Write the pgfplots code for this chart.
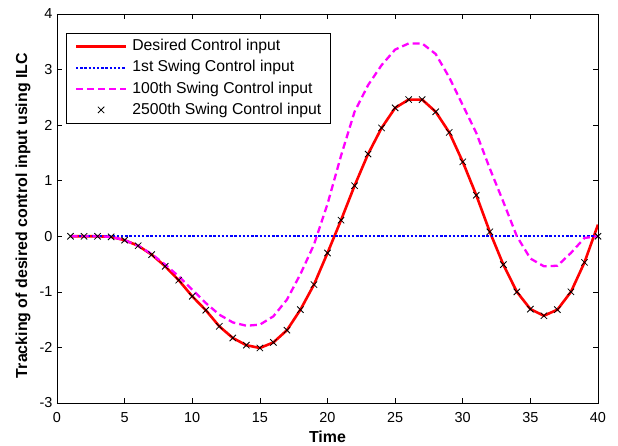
\documentclass[border=0pt]{standalone}
\usepackage{fontspec}
\setmainfont{Liberation Sans}
\usepackage{pgfplots}
\pgfplotsset{compat=1.18}
\definecolor{mred}{rgb}{1,0,0}
\definecolor{mblue}{rgb}{0,0,1}
\definecolor{mmag}{rgb}{1,0,1}
\pgfplotsset{
  linelegend/.style={legend image code/.code={\draw[##1] plot coordinates {(0bp,0bp) (50bp,0bp)};}},
  marklegend/.style={legend image code/.code={\draw[##1] plot coordinates {(25bp,0bp)};}},
}
\begin{document}
\begin{tikzpicture}
\path[use as bounding box] (-57bp,-43bp) rectangle (561bp,403bp);
\begin{axis}[
  scale only axis, width=541bp, height=389bp,
  xmin=0, xmax=40, ymin=-3, ymax=4,
  xtick={0,5,...,40}, ytick={-3,-2,...,4},
  tick align=inside, major tick length=5bp,
  axis line style={line width=0.9bp}, every tick/.style={black, line width=0.6bp},
  /pgf/number format/assume math mode=true,
  tick label style={font=\fontsize{14.5}{16}\selectfont},
  xticklabel style={anchor=center, yshift=-14.7bp},
  yticklabel style={xshift=-1bp},
  xlabel={Time}, ylabel={Tracking of desired control input using ILC},
  every axis x label/.style={at={(rel axis cs:0.5,0)}, anchor=center, yshift=-33.7bp, font=\fontsize{16}{18}\selectfont\bfseries},
  every axis y label/.style={at={(rel axis cs:0,0.5)}, xshift=-34bp, yshift=-7bp, rotate=90, anchor=center, font=\fontsize{16}{18}\selectfont\bfseries},
  legend cell align=left,
  legend style={at={(rel axis cs:0.0166,0.951)}, anchor=north west, draw=black, line width=0.6bp,
    font=\fontsize{15.8}{18}\selectfont, row sep=6.6bp, column sep=5bp,
    inner xsep=8.5bp, inner ysep=6bp,
    nodes={inner sep=0pt, text height=11.5bp, text depth=3bp}},
  linelegend,
]
\addplot[mred, line width=2.6bp] coordinates {
(1,0)(2,0)(3,0)(4,-0.01)(5,-0.07)(6,-0.17)(7,-0.33)(8,-0.54)(9,-0.79)(10,-1.08)
(11,-1.33)(12,-1.62)(13,-1.83)(14,-1.96)(15,-2.01)(16,-1.91)(17,-1.69)(18,-1.32)(19,-0.87)(20,-0.30)
(21,0.29)(22,0.91)(23,1.48)(24,1.95)(25,2.31)(26,2.46)(27,2.46)(28,2.24)(29,1.87)(30,1.34)
(31,0.74)(32,0.08)(33,-0.51)(34,-1.00)(35,-1.31)(36,-1.43)(37,-1.32)(38,-1.00)(39,-0.47)(40,0.21)};
\addlegendentry{Desired Control input}
\addplot[mblue, line width=2.4bp, dash pattern=on 2.4bp off 1.8bp] coordinates {
(1,0)(40,0)};
\addlegendentry{1st Swing Control input}
\addplot[mmag, line width=2.3bp, dash pattern=on 7bp off 4bp] coordinates {
(1,0)(2,0)(3,0)(4,-0.01)(5,-0.07)(6,-0.17)(7,-0.32)(8,-0.51)(9,-0.72)(10,-0.96)
(11,-1.20)(12,-1.41)(13,-1.55)(14,-1.61)(15,-1.59)(16,-1.44)(17,-1.14)(18,-0.68)(19,-0.15)(20,0.58)
(21,1.45)(22,2.24)(23,2.72)(24,3.08)(25,3.36)(26,3.47)(27,3.47)(28,3.28)(29,2.86)(30,2.36)
(31,1.86)(32,1.22)(33,0.62)(34,0.0)(35,-0.40)(36,-0.54)(37,-0.53)(38,-0.30)(39,-0.03)(40,0)};
\addlegendentry{100th Swing Control input}
\addplot[only marks, mark=x, mark size=4.5bp, black, mark options={line width=0.8bp}, marklegend] coordinates {
(1,0)(2,0)(3,0)(4,-0.01)(5,-0.07)(6,-0.17)(7,-0.33)(8,-0.54)(9,-0.79)(10,-1.08)
(11,-1.33)(12,-1.62)(13,-1.83)(14,-1.96)(15,-2.01)(16,-1.91)(17,-1.69)(18,-1.32)(19,-0.87)(20,-0.30)
(21,0.29)(22,0.91)(23,1.48)(24,1.95)(25,2.31)(26,2.46)(27,2.46)(28,2.24)(29,1.87)(30,1.34)
(31,0.74)(32,0.08)(33,-0.51)(34,-1.00)(35,-1.31)(36,-1.43)(37,-1.32)(38,-1.00)(39,-0.47)(40,0)};
\addlegendentry{2500th Swing Control input}
\end{axis}
\end{tikzpicture}
\end{document}
